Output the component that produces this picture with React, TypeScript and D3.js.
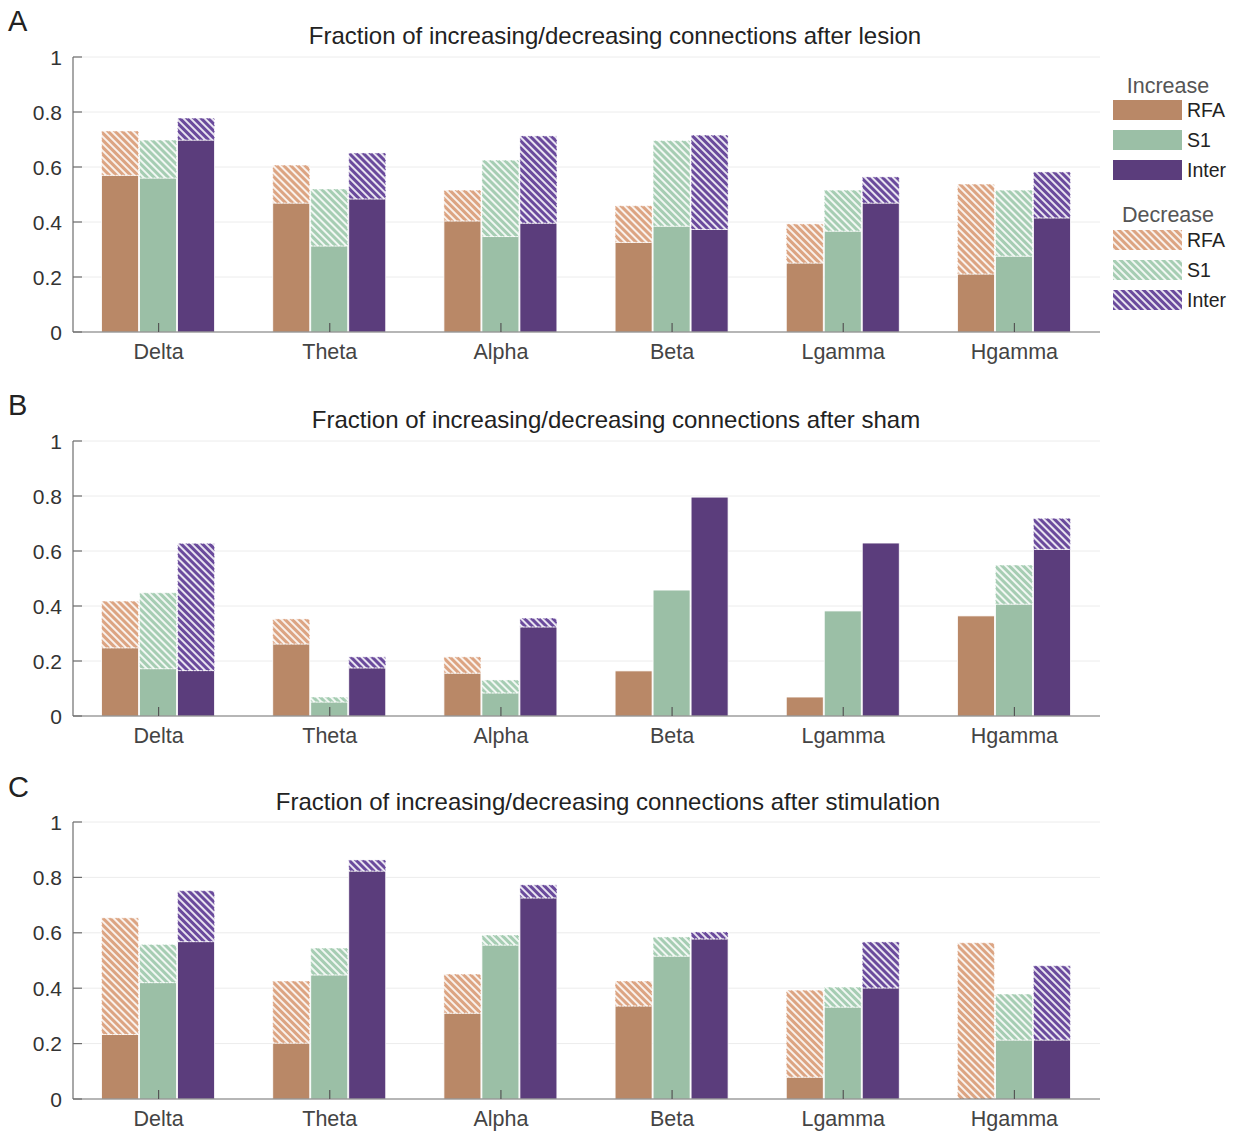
import React from "react";
import * as d3 from "d3";

// Frequency bands on the x axis
const bands = ["Delta", "Theta", "Alpha", "Beta", "Lgamma", "Hgamma"];
const regions = ["RFA", "S1", "Inter"];
const yTicks = [0, 0.2, 0.4, 0.6, 0.8, 1];

// Panel A – after lesion
const lesionIncRFA = [0.57, 0.469, 0.404, 0.326, 0.251, 0.211];
const lesionDecRFA = [0.161, 0.138, 0.112, 0.133, 0.142, 0.327];
const lesionIncS1 = [0.56, 0.313, 0.347, 0.385, 0.367, 0.276];
const lesionDecS1 = [0.138, 0.207, 0.278, 0.311, 0.149, 0.24];
const lesionIncInter = [0.698, 0.484, 0.396, 0.373, 0.469, 0.415];
const lesionDecInter = [0.08, 0.167, 0.317, 0.343, 0.095, 0.167];

// Panel B – after sham
const shamIncRFA = [0.248, 0.262, 0.156, 0.164, 0.069, 0.364];
const shamDecRFA = [0.17, 0.091, 0.059, 0, 0, 0];
const shamIncS1 = [0.172, 0.051, 0.084, 0.458, 0.382, 0.407];
const shamDecS1 = [0.276, 0.018, 0.047, 0, 0, 0.142];
const shamIncInter = [0.165, 0.175, 0.324, 0.796, 0.629, 0.606];
const shamDecInter = [0.463, 0.04, 0.032, 0, 0, 0.113];

// Panel C – after stimulation
const stimIncRFA = [0.233, 0.202, 0.31, 0.336, 0.079, 0];
const stimDecRFA = [0.421, 0.224, 0.141, 0.09, 0.314, 0.564];
const stimIncS1 = [0.42, 0.448, 0.556, 0.516, 0.332, 0.213];
const stimDecS1 = [0.138, 0.097, 0.036, 0.069, 0.072, 0.166];
const stimIncInter = [0.568, 0.823, 0.726, 0.578, 0.401, 0.213];
const stimDecInter = [0.184, 0.04, 0.047, 0.025, 0.166, 0.268];

const solidColors = ["#b98867", "#9bbfa6", "#5b3d7c"];
const hatchColors = ["#dca482", "#a6cdb3", "#6a4a9c"];

const FONT = "'Liberation Sans', Arial, Helvetica, sans-serif";

type PanelSpec = {
  letter: string;
  title: string;
  top: number;
  bottom: number;
  letterY: number;
  titleY: number;
  titleX: number;
  inc: number[][];
  dec: number[][];
};

const panels: PanelSpec[] = [
  {
    letter: "A",
    title: "Fraction of increasing/decreasing connections after lesion",
    top: 57,
    bottom: 332,
    letterY: 31,
    titleY: 44,
    titleX: 615,
    inc: [lesionIncRFA, lesionIncS1, lesionIncInter],
    dec: [lesionDecRFA, lesionDecS1, lesionDecInter],
  },
  {
    letter: "B",
    title: "Fraction of increasing/decreasing connections after sham",
    top: 441,
    bottom: 716,
    letterY: 415,
    titleY: 428,
    titleX: 616,
    inc: [shamIncRFA, shamIncS1, shamIncInter],
    dec: [shamDecRFA, shamDecS1, shamDecInter],
  },
  {
    letter: "C",
    title: "Fraction of increasing/decreasing connections after stimulation",
    top: 822,
    bottom: 1099,
    letterY: 797,
    titleY: 810,
    titleX: 608,
    inc: [stimIncRFA, stimIncS1, stimIncInter],
    dec: [stimDecRFA, stimDecS1, stimDecInter],
  },
];

const X0 = 73;
const X1 = 1100;

const xGroup = d3.scaleBand<string>().domain(bands).range([X0, X1]);
const xInner = d3.scaleBand<string>().domain(regions).range([-57, 57]);

function Panel({ p }: { p: PanelSpec }) {
  const y = d3.scaleLinear().domain([0, 1]).range([p.bottom, p.top]);
  return (
    <g>
      <text x={8} y={p.letterY} fontSize={29} fill="#222" fontFamily={FONT}>
        {p.letter}
      </text>
      <text
        x={p.titleX}
        y={p.titleY}
        fontSize={24}
        fill="#222"
        textAnchor="middle"
        fontFamily={FONT}
      >
        {p.title}
      </text>
      {yTicks.slice(1).map((t) => (
        <line
          key={"g" + t}
          x1={X0}
          x2={X1}
          y1={y(t)}
          y2={y(t)}
          stroke="#ececec"
          strokeWidth={1}
        />
      ))}
      {bands.map((b, bi) =>
        regions.map((r, ri) => {
          const cx = (xGroup(b) as number) + xGroup.bandwidth() / 2;
          const x = cx + (xInner(r) as number);
          const w = xInner.bandwidth() - 1;
          const inc = p.inc[ri][bi];
          const dec = p.dec[ri][bi];
          return (
            <g key={b + r}>
              {inc > 0 && (
                <rect
                  x={x}
                  y={y(inc)}
                  width={w}
                  height={y(0) - y(inc)}
                  fill={solidColors[ri]}
                  stroke="#fff"
                  strokeWidth={0.8}
                />
              )}
              {dec > 0 && (
                <rect
                  x={x}
                  y={y(inc + dec)}
                  width={w}
                  height={y(inc) - y(inc + dec)}
                  fill={`url(#hatch${ri})`}
                  stroke="#fff"
                  strokeWidth={0.8}
                  strokeDasharray="2,1"
                />
              )}
            </g>
          );
        })
      )}
      {/* axes */}
      <line x1={X0} x2={X0} y1={p.top} y2={p.bottom} stroke="#6e6e6e" strokeWidth={1.2} />
      <line x1={X0} x2={X1} y1={p.bottom} y2={p.bottom} stroke="#6e6e6e" strokeWidth={1.2} />
      {yTicks.map((t) => (
        <g key={"t" + t}>
          <line x1={X0} x2={X0 + 9} y1={y(t)} y2={y(t)} stroke="#6e6e6e" strokeWidth={1.2} />
          <text
            x={62}
            y={y(t)}
            dy="0.36em"
            fontSize={21}
            fill="#333"
            textAnchor="end"
            fontFamily={FONT}
          >
            {t === 0 || t === 1 ? String(t) : t.toFixed(1)}
          </text>
        </g>
      ))}
      {bands.map((b) => {
        const cx = (xGroup(b) as number) + xGroup.bandwidth() / 2;
        return (
          <g key={"xl" + b}>
            <line x1={cx} x2={cx} y1={p.bottom} y2={p.bottom - 9} stroke="#555" strokeWidth={1.2} />
            <text
              x={cx}
              y={p.bottom + 27}
              fontSize={21.5}
              fill="#444"
              textAnchor="middle"
              fontFamily={FONT}
            >
              {b}
            </text>
          </g>
        );
      })}
    </g>
  );
}

function Legend() {
  const sx = 1113;
  const sw = 69;
  const sh = 20;
  const incY = [100, 130, 160];
  const decY = [230, 260, 290];
  return (
    <g fontFamily={FONT}>
      <text x={1168} y={93} fontSize={21.5} fill="#555" textAnchor="middle">
        Increase
      </text>
      {regions.map((r, i) => (
        <g key={"li" + r}>
          <rect x={sx} y={incY[i]} width={sw} height={sh} fill={solidColors[i]} />
          <text x={1187} y={incY[i] + sh / 2} dy="0.36em" fontSize={19.5} fill="#222">
            {r}
          </text>
        </g>
      ))}
      <text x={1168} y={222} fontSize={21.5} fill="#555" textAnchor="middle">
        Decrease
      </text>
      {regions.map((r, i) => (
        <g key={"ld" + r}>
          <rect x={sx} y={decY[i]} width={sw} height={sh} fill={`url(#hatch${i})`} />
          <text x={1187} y={decY[i] + sh / 2} dy="0.36em" fontSize={19.5} fill="#222">
            {r}
          </text>
        </g>
      ))}
    </g>
  );
}

export default function App() {
  return (
    <svg
      width={1245}
      height={1134}
      style={{ position: "absolute", left: 0, top: 0, background: "#fff" }}
    >
      <defs>
        {hatchColors.map((c, i) => (
          <pattern
            key={i}
            id={`hatch${i}`}
            patternUnits="userSpaceOnUse"
            width={5}
            height={5}
            patternTransform="rotate(-45)"
          >
            <rect x={0} y={0} width={5} height={5} fill={c} />
            <line x1={1} x2={1} y1={0} y2={5} stroke="#fff" strokeWidth={1.7} />
          </pattern>
        ))}
      </defs>
      <rect x={0} y={0} width={1245} height={1134} fill="#fff" />
      {panels.map((p) => (
        <Panel key={p.letter} p={p} />
      ))}
      <Legend />
    </svg>
  );
}
